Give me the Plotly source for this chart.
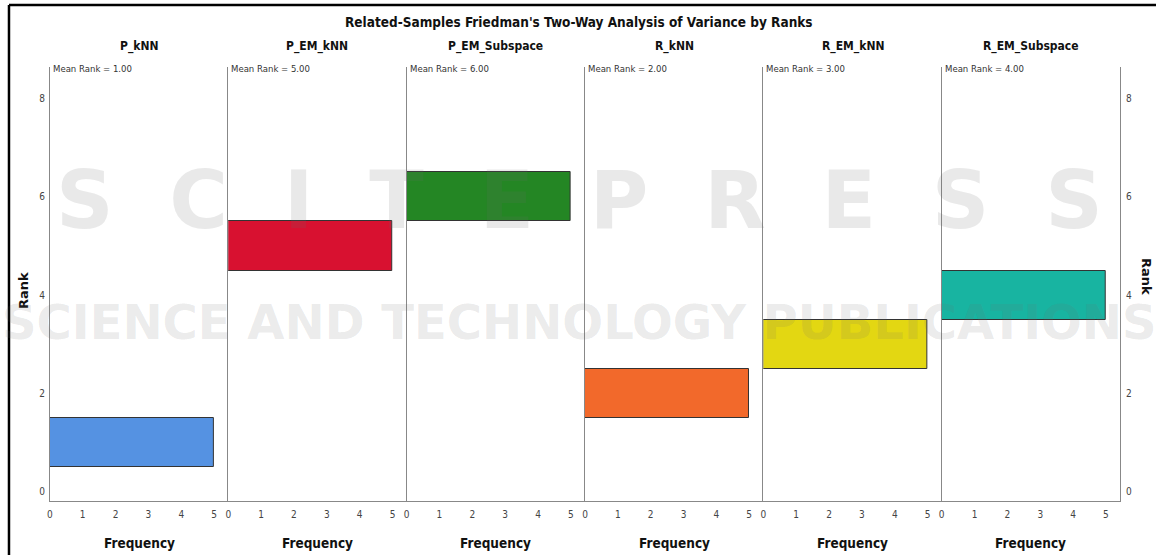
import plotly.graph_objects as go

# Friedman test: mean rank per method, frequency of each rank
methods = ["P_kNN", "P_EM_kNN", "P_EM_Subspace", "R_kNN", "R_EM_kNN", "R_EM_Subspace"]
mean_ranks = [1.00, 5.00, 6.00, 2.00, 3.00, 4.00]
frequencies = [5, 5, 5, 5, 5, 5]
colors = ["#5592E2", "#D81130", "#248624", "#F2692B", "#E3D712", "#18B4A1"]

x_ticks = [0, 1, 2, 3, 4, 5]
y_ticks = [0, 2, 4, 6, 8]

W, H = 1156, 555
left_px, right_px = 47, 1120
top_px, bottom_px = 67, 501
panel_w = (right_px - left_px) / len(methods)
y_dom = [1 - bottom_px / H, 1 - top_px / H]
y_range = [-0.2, 8.65]
x_range = [0, 5.43]

FONT = "DejaVu Sans Condensed, sans-serif"
tick_font = dict(family=FONT, size=10, color="#444444")

fig = go.Figure()
layout = {}
annotations = []

for i, (name, rank, freq, col) in enumerate(zip(methods, mean_ranks, frequencies, colors)):
    k = i + 1
    xs = "x" if k == 1 else f"x{k}"
    ys = "y" if k == 1 else f"y{k}"
    fig.add_trace(go.Bar(
        x=[freq], y=[rank], base=0, orientation="h", width=1,
        marker=dict(color=col, line=dict(color="#333333", width=1)),
        xaxis=xs, yaxis=ys, showlegend=False, hoverinfo="skip",
    ))
    x0 = (left_px + i * panel_w) / W
    x1 = (left_px + (i + 1) * panel_w) / W
    layout[f"xaxis{k}"] = dict(
        domain=[x0, x1], range=x_range, anchor=ys,
        tickvals=x_ticks, ticks="", showgrid=False, zeroline=False,
        showline=True, linecolor="#888888", linewidth=1,
        tickfont=tick_font, ticklabelstandoff=4, fixedrange=True,
    )
    layout[f"yaxis{k}"] = dict(
        domain=y_dom, range=y_range, anchor=xs,
        tickvals=y_ticks, ticks="", showgrid=False, zeroline=False,
        showline=True, linecolor="#888888", linewidth=1,
        showticklabels=(k == 1), tickfont=tick_font, ticklabelstandoff=2,
        fixedrange=True,
    )
    # panel heading
    annotations.append(dict(
        text=f"<b>{name}</b>", xref=f"{xs} domain", yref="paper",
        x=0.5, y=1 - 46 / H, xanchor="center", yanchor="middle",
        showarrow=False, font=dict(family=FONT, size=12, color="#111111"),
    ))
    # mean rank label
    annotations.append(dict(
        text=f"Mean Rank = {rank:.2f}", xref=f"{xs} domain", yref=f"{ys} domain",
        x=0.0, y=1.0, xanchor="left", yanchor="middle", xshift=1, yshift=-1,
        showarrow=False, font=dict(family=FONT, size=9.5, color="#333333"),
    ))
    # frequency axis title
    annotations.append(dict(
        text="<b>Frequency</b>", xref=f"{xs} domain", yref="paper",
        x=0.5, y=1 - 543 / H, xanchor="center", yanchor="middle",
        showarrow=False, font=dict(family=FONT, size=13.5, color="#111111"),
    ))

# right-hand rank axis
n = len(methods)
layout["yaxis7"] = dict(
    domain=y_dom, range=y_range, anchor=f"x{n}", overlaying=f"y{n}", side="right",
    tickvals=y_ticks, ticks="", showgrid=False, zeroline=False,
    showline=True, linecolor="#888888", linewidth=1,
    tickfont=tick_font, ticklabelstandoff=3, fixedrange=True,
)
fig.add_trace(go.Scatter(x=[None], y=[None], xaxis=f"x{n}", yaxis="y7",
                         showlegend=False, hoverinfo="skip"))

annotations += [
    dict(text="<b>Related-Samples Friedman's Two-Way Analysis of Variance by Ranks</b>",
         xref="paper", yref="paper", x=577 / W, y=1 - 22 / H,
         xanchor="center", yanchor="middle", showarrow=False,
         font=dict(family=FONT, size=13.5, color="#111111")),
    dict(text="<b>Rank</b>", xref="paper", yref="paper", x=20 / W, y=1 - 290 / H,
         xanchor="center", yanchor="middle", textangle=-90, showarrow=False,
         font=dict(family="DejaVu Sans", size=13, color="#111111")),
    dict(text="<b>Rank</b>", xref="paper", yref="paper", x=1147 / W, y=1 - 276 / H,
         xanchor="center", yanchor="middle", textangle=90, showarrow=False,
         font=dict(family="DejaVu Sans", size=13, color="#111111")),
    # publisher watermark
    dict(text="<b>S  C  I  T  E  P  R  E  S  S</b>", xref="paper", yref="paper",
         x=0.5, y=1 - 200 / H, xanchor="center", yanchor="middle", showarrow=False,
         font=dict(family="DejaVu Sans", size=80, color="rgba(110,110,110,0.15)")),
    dict(text="<b>SCIENCE AND TECHNOLOGY PUBLICATIONS</b>", xref="paper", yref="paper",
         x=0.5, y=1 - 322 / H, xanchor="center", yanchor="middle", showarrow=False,
         font=dict(family="DejaVu Sans", size=48, color="rgba(110,110,110,0.15)")),
]

shapes = [
    dict(type="line", xref="paper", yref="paper", x0=6 / W, x1=1.0,
         y0=1 - 5 / H, y1=1 - 5 / H, line=dict(color="#000000", width=2.5)),
    dict(type="line", xref="paper", yref="paper", x0=6 / W, x1=6 / W,
         y0=0, y1=1 - 5 / H, line=dict(color="#000000", width=2.5)),
]

fig.update_layout(
    width=W, height=H, margin=dict(l=0, r=0, t=0, b=0),
    paper_bgcolor="white", plot_bgcolor="white",
    bargap=0, annotations=annotations, shapes=shapes, **layout,
)

fig.write_html("out.html")
